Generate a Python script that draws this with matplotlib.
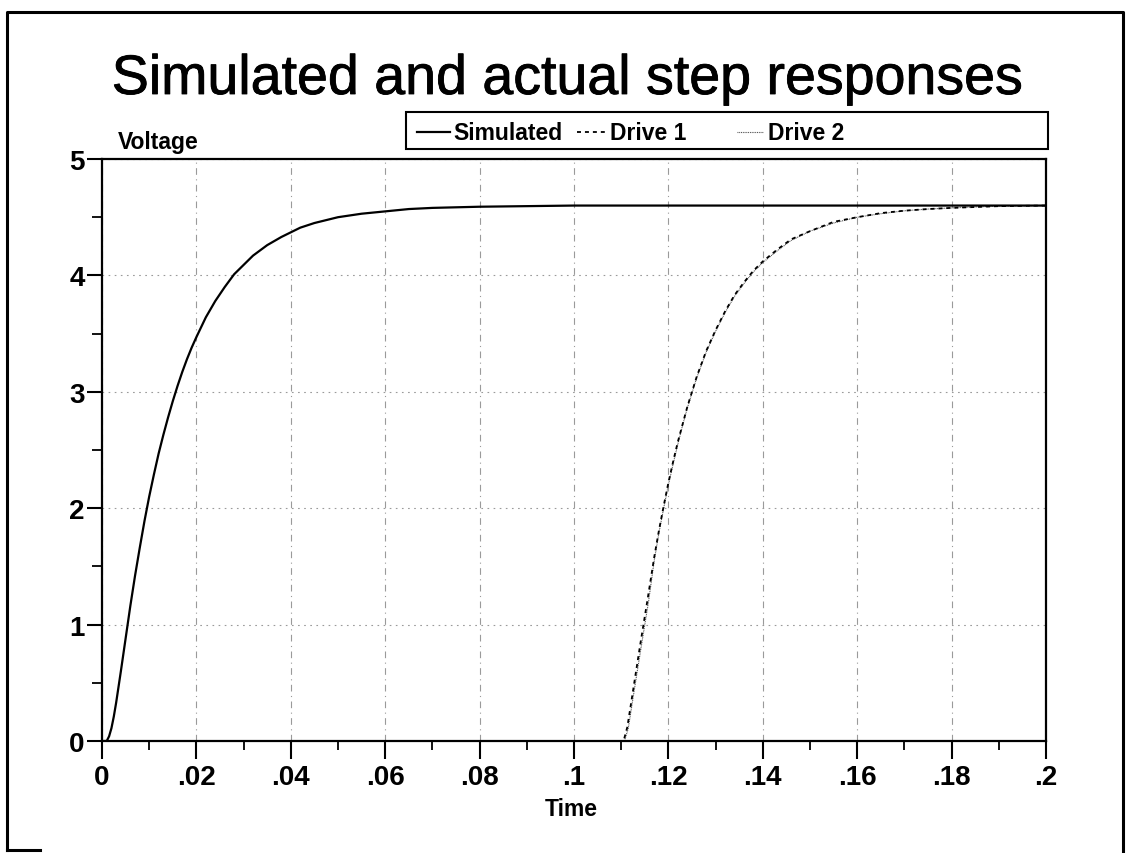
import matplotlib
matplotlib.use("Agg")
import matplotlib.pyplot as plt
import matplotlib.patheffects as pe
from matplotlib.lines import Line2D
from matplotlib.patches import Rectangle
from matplotlib.ticker import MultipleLocator, FuncFormatter

plt.rcParams['font.family'] = ['Liberation Sans', 'DejaVu Sans']

# Simulated response (time in s, voltage in V)
sim_t = [0.0, 0.001, 0.0015, 0.002, 0.0025, 0.003, 0.004, 0.005, 0.006, 0.007,
         0.008, 0.009, 0.010, 0.011, 0.012, 0.013, 0.014, 0.015, 0.016, 0.017,
         0.018, 0.019, 0.020, 0.022, 0.024, 0.026, 0.028, 0.030, 0.032, 0.035,
         0.038, 0.040, 0.042, 0.045, 0.050, 0.055, 0.060, 0.065, 0.070, 0.080,
         0.100, 0.150, 0.200]
sim_v = [0.0, 0.0, 0.04, 0.11, 0.21, 0.33, 0.60, 0.88, 1.16, 1.42,
         1.66, 1.89, 2.10, 2.29, 2.47, 2.63, 2.78, 2.92, 3.05, 3.17,
         3.28, 3.38, 3.47, 3.64, 3.78, 3.90, 4.01, 4.09, 4.17, 4.26,
         4.33, 4.37, 4.41, 4.45, 4.50, 4.53, 4.55, 4.57, 4.58, 4.59,
         4.60, 4.60, 4.60]

# Measured response, drive 1
d1_t = [0.0, 0.1105, 0.1113, 0.1125, 0.1140, 0.1156, 0.117, 0.118, 0.119, 0.120,
        0.121, 0.122, 0.123, 0.124, 0.126, 0.128, 0.130, 0.132, 0.134, 0.136,
        0.138, 0.140, 0.143, 0.146, 0.150, 0.155, 0.160, 0.165, 0.170, 0.175,
        0.180, 0.190, 0.200]
d1_v = [0.0, 0.0, 0.12, 0.43, 0.82, 1.22, 1.58, 1.81, 2.02, 2.22,
        2.40, 2.57, 2.72, 2.87, 3.13, 3.35, 3.53, 3.69, 3.83, 3.94,
        4.04, 4.12, 4.22, 4.31, 4.38, 4.46, 4.50, 4.535, 4.556, 4.57,
        4.58, 4.595, 4.60]

# Measured response, drive 2
d2_t = [0.0, 0.1107, 0.1115, 0.1127, 0.1142, 0.1158, 0.117, 0.118, 0.119, 0.120,
        0.121, 0.122, 0.123, 0.124, 0.126, 0.128, 0.130, 0.132, 0.134, 0.136,
        0.138, 0.140, 0.143, 0.146, 0.150, 0.155, 0.160, 0.165, 0.170, 0.175,
        0.180, 0.190, 0.200]
d2_v = [0.0, 0.0, 0.11, 0.42, 0.80, 1.20, 1.55, 1.79, 2.00, 2.20,
        2.38, 2.55, 2.71, 2.86, 3.12, 3.34, 3.52, 3.68, 3.82, 3.93,
        4.03, 4.11, 4.21, 4.30, 4.38, 4.45, 4.50, 4.53, 4.555, 4.57,
        4.58, 4.595, 4.60]

x_ticks = [0.0, 0.02, 0.04, 0.06, 0.08, 0.10, 0.12, 0.14, 0.16, 0.18, 0.20]
y_ticks = [0, 1, 2, 3, 4, 5]

title_text = "Simulated and actual step responses"
series_names = ["Simulated", "Drive 1", "Drive 2"]

W, H = 1128, 854
fig = plt.figure(figsize=(W / 100, H / 100), dpi=100)


def fx(px):
    return px / W


def fy(py):
    return 1 - py / H


ax = fig.add_axes([fx(102), fy(742), fx(1046) - fx(102), fy(160) - fy(742)])

styles = {
    "Simulated": dict(color="black", lw=1.6, linestyle="-"),
    "Drive 1": dict(color="black", lw=1.3, linestyle=(0, (2.2, 2.2))),
    "Drive 2": dict(color="#444444", lw=0.8, linestyle=(0, (0.8, 0.8))),
}

ax.plot(d2_t, d2_v, **styles["Drive 2"])
ax.plot(d1_t, d1_v, **styles["Drive 1"])
ax.plot(sim_t, sim_v, **styles["Simulated"])

ax.set_xlim(0, 0.2)
ax.set_ylim(0, 5)
ax.set_xticks(x_ticks)
ax.set_yticks(y_ticks)
ax.xaxis.set_minor_locator(MultipleLocator(0.01))
ax.yaxis.set_minor_locator(MultipleLocator(0.5))


def short_num(v, pos=None):
    if abs(v) < 1e-12:
        return "0"
    s = f"{v:.2f}".rstrip("0").rstrip(".")
    if s.startswith("0."):
        s = s[1:]
    return s


ax.xaxis.set_major_formatter(FuncFormatter(short_num))
ax.yaxis.set_major_formatter(FuncFormatter(lambda v, p: f"{int(round(v))}"))

ax.tick_params(axis="x", which="major", direction="out", length=13, width=1.5,
               pad=3.5, labelsize=20)
ax.tick_params(axis="x", which="minor", direction="out", length=6.5, width=1.3)
ax.tick_params(axis="y", which="major", direction="out", length=11, width=1.5,
               pad=1.5, labelsize=20)
ax.tick_params(axis="y", which="minor", direction="out", length=7, width=1.3)
for lab in ax.get_xticklabels() + ax.get_yticklabels():
    lab.set_fontweight("bold")

for sp in ax.spines.values():
    sp.set_linewidth(1.6)
    sp.set_color("black")

ax.grid(True, axis="x", which="major", color="#9a9a9a", lw=0.8,
        linestyle=(0, (6, 4, 1, 4)))
ax.grid(True, axis="y", which="major", color="#9a9a9a", lw=0.8,
        linestyle=(0, (1.5, 4)))
ax.set_axisbelow(True)

# Title and axis captions
fig.text(fx(567), fy(95), title_text, ha="center", va="baseline", fontsize=40,
         path_effects=[pe.withStroke(linewidth=0.6, foreground="black")])
fig.text(fx(118), fy(149), "Voltage", ha="left", va="baseline",
         fontsize=16.5, fontweight="bold")
fig.text(fx(571), fy(816), "Time", ha="center", va="baseline",
         fontsize=16.5, fontweight="bold")

# Legend box across the top of the plot
fig.patches.append(Rectangle((fx(406), fy(150)), fx(1048) - fx(406),
                             fy(113) - fy(150), transform=fig.transFigure,
                             fill=False, edgecolor="black", lw=1.5))
legend_spots = [(417, 450, 453), (577, 607, 610), (737, 763, 768)]
for name, (x0, x1, xt) in zip(series_names, legend_spots):
    fig.lines.append(Line2D([fx(x0), fx(x1)], [fy(133), fy(133)],
                            transform=fig.transFigure, **styles[name]))
    fig.text(fx(xt), fy(133), name, ha="left", va="center",
             fontsize=16.5, fontweight="bold")

# Outer page frame
frame_kw = dict(transform=fig.transFigure, color="black", lw=2.2)
fig.lines.append(Line2D([fx(7), fx(7), fx(1123), fx(1123)],
                        [fy(851), fy(13), fy(13), fy(854)], **frame_kw))
fig.lines.append(Line2D([fx(7), fx(40)], [fy(851), fy(851)], **frame_kw))

fig.savefig("out.png", dpi=100, facecolor="white")
